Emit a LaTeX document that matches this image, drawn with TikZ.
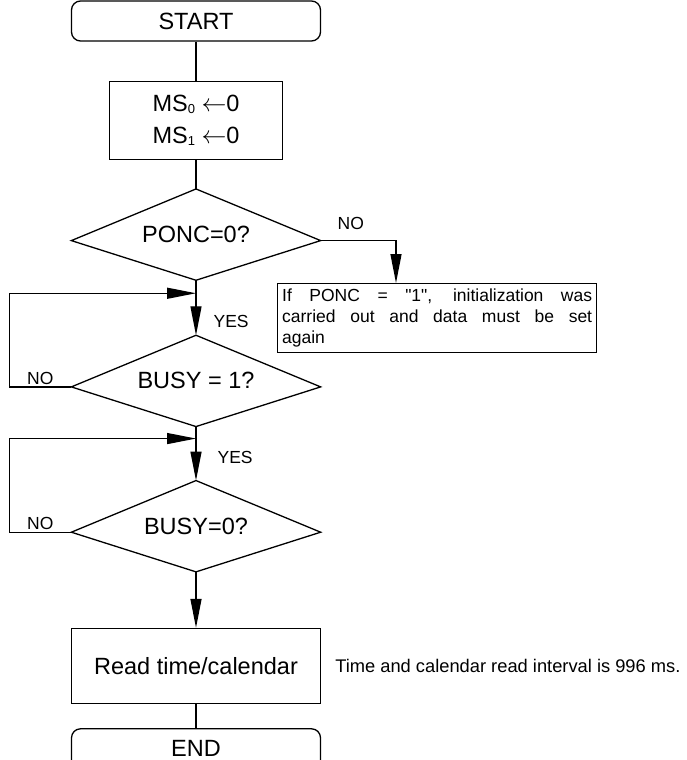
\documentclass[tikz,border=0pt]{standalone}
\usepackage{fontspec}
\setmainfont{Liberation Sans}[Ligatures=TeXOff]
\usetikzlibrary{positioning, calc, arrows.meta}
\newcommand{\msub}[1]{\raisebox{-2pt}{\fontsize{13}{13}\selectfont #1}}

\begin{document}
\begin{tikzpicture}[x=1pt, y=-1pt, line width=1.3pt]
    % Styles
    \tikzstyle{bigtext} = [font=\fontsize{23.5}{32}\selectfont]
    \tikzstyle{smalltext} = [font=\fontsize{17.5}{21}\selectfont]
    \tikzstyle{term} = [rectangle, draw, bigtext, rounded corners=9pt, minimum width=249pt, minimum height=40pt, inner sep=0pt]
    \tikzstyle{proc} = [rectangle, draw, bigtext, minimum height=75pt, inner sep=0pt, align=center]
    \tikzstyle{dec} = [rectangle, draw=none, bigtext, minimum width=248pt, minimum height=90pt, inner sep=0pt]
    \tikzstyle{note} = [rectangle, draw, smalltext, text width=310pt, align=justify, inner xsep=4.5pt, inner ysep=0pt, minimum height=69pt]
    \tikzstyle{lbl} = [smalltext, inner sep=0pt]
    \tikzstyle{arrow} = [-{Triangle[length=29pt, width=11pt]}]

    \useasboundingbox (0,0) rectangle (686,760);

    % Nodes
    \node [term] (start) at (196,21) {START};
    \node [proc, minimum width=173pt, minimum height=78pt, below=39pt of start] (ms) {MS\msub{0} $\leftarrow$0\\MS\msub{1} $\leftarrow$0};
    \node [dec, below=29pt of ms] (ponc) {PONC=0?};
    \node [dec, below=55pt of ponc] (busyA) {BUSY = 1?};
    \node [dec, below=54pt of busyA] (busyB) {BUSY=0?};
    \node [proc, minimum width=249pt, below=56pt of busyB] (read) {Read time/calendar};
    \node [term, below=24pt of read] (end) {END};

    % Side notes
    \node [note, anchor=north west] (again) at (277,283) {If PONC = "1", initialization was\linebreak carried out and data must be set\linebreak again};
    \node [lbl, font=\fontsize{18.3}{21}\selectfont, right=13.5pt of read] (interval) {Time and calendar read interval is 996 ms.};

    % Decision outlines
    \foreach \d in {ponc, busyA, busyB}
        \draw (\d.north) -- ([yshift=-6pt]\d.west) coordinate (\d-w) -- (\d.south) -- ([yshift=-6pt]\d.east) coordinate (\d-e) -- cycle;

    % Junctions
    \coordinate (jA) at ([yshift=-13pt]ponc.south);
    \coordinate (jB) at ([yshift=-12pt]busyA.south);
    \coordinate (nt) at ([xshift=119pt]again.north west);

    % Connections
    \draw (start) -- (ms);
    \draw (ms) -- (ponc);
    \draw [arrow] (ponc) -- node[lbl, pos=0.75, right=17pt] {YES} (busyA);
    \draw [arrow] (busyA) -- node[lbl, pos=0.57, right=21pt] {YES} (busyB);
    \draw [arrow] (busyB) -- (read);
    \draw (read) -- (end);
    \draw [arrow] (ponc-e) -| node[lbl, pos=0.2, above=10pt] {NO} (nt);

    % Loops back
    \draw [arrow] (busyA-w) -- node[lbl, above=2pt] {NO} ++(-62,0) |- (jA);
    \draw [arrow] (busyB-w) -- node[lbl, above=2pt] {NO} ++(-62,0) |- (jB);

\end{tikzpicture}
\end{document}
